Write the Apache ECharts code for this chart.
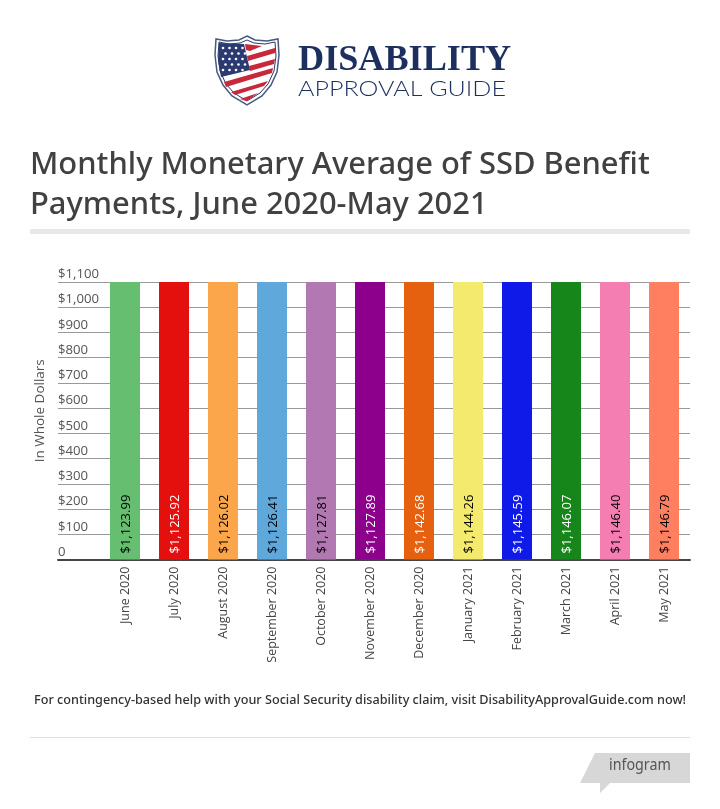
<!doctype html>
<html>
<head>
<meta charset="utf-8">
<title>Monthly Monetary Average of SSD Benefit Payments</title>
<style>
html, body { margin: 0; padding: 0; background: #fff; }
#main { width: 720px; height: 809px; }
</style>
</head>
<body>
<div id="main"></div>
<script src="https://cdn.jsdelivr.net/npm/echarts@6/dist/echarts.min.js"></script>
<script>
var months = ['June 2020', 'July 2020', 'August 2020', 'September 2020', 'October 2020', 'November 2020',
    'December 2020', 'January 2021', 'February 2021', 'March 2021', 'April 2021', 'May 2021'];
var payments = [1123.99, 1125.92, 1126.02, 1126.41, 1127.81, 1127.89, 1142.68, 1144.26, 1145.59, 1146.07, 1146.40, 1146.79];
var barColors = ['#66bf70', '#e3100e', '#fba64a', '#5fa8dc', '#b278b2', '#8c008c',
    '#e56110', '#f3ea6e', '#0f1ae8', '#16851a', '#f47eb2', '#ff7f60'];
var labelColors = ['#000', '#fff', '#000', '#000', '#000', '#fff', '#fff', '#000', '#fff', '#fff', '#000', '#000'];

var titleText = 'Monthly Monetary Average of SSD Benefit\nPayments, June 2020-May 2021';
var footerText = 'For contingency-based help with your Social Security disability claim, visit DisabilityApprovalGuide.com now!';

function money(v) {
    return '$' + v.toLocaleString('en-US', { minimumFractionDigits: 2, maximumFractionDigits: 2 });
}

var barData = payments.map(function (v, i) {
    return {
        value: v,
        itemStyle: { color: barColors[i] },
        label: { color: labelColors[i] }
    };
});

// logo, drawn by hand
var navy = '#1c2f5f';
var stripe = '#c8283c';
var logo = [
    { type: 'polygon', shape: { points: [[247, 36], [255, 40], [267, 41], [278, 39], [279, 55], [277, 72], [271, 85], [262, 96], [247, 105], [232, 96], [223, 85], [217, 72], [215, 55], [216, 39], [227, 41], [239, 40]] },
        style: { fill: '#fff', stroke: '#4a5a80', lineWidth: 1.5 } },
    { type: 'polygon', shape: { points: [[247, 40], [254, 43], [265, 44], [275, 42], [276, 56], [274, 71], [268, 84], [260, 93], [247, 101], [234, 93], [226, 84], [220, 71], [218, 56], [219, 42], [229, 44], [240, 43]] },
        style: { fill: '#fff', stroke: '#2a3a68', lineWidth: 1 } },
    { type: 'polygon', shape: { points: [[245, 44], [262, 46], [250, 51], [246, 50]] }, style: { fill: stripe } },
    { type: 'polygon', shape: { points: [[247, 56], [275, 48], [275, 53], [248, 61]] }, style: { fill: stripe } },
    { type: 'polygon', shape: { points: [[249, 66], [275, 59], [274, 64], [250, 71]] }, style: { fill: stripe } },
    { type: 'polygon', shape: { points: [[224, 82], [273, 68], [272, 73], [226, 87]] }, style: { fill: stripe } },
    { type: 'polygon', shape: { points: [[231, 92], [268, 81], [264, 86], [235, 95]] }, style: { fill: stripe } },
    { type: 'polygon', shape: { points: [[240, 99], [258, 93], [250, 99], [246, 101]] }, style: { fill: stripe } },
    { type: 'polygon', shape: { points: [[219, 43], [244, 44], [250, 70], [221, 77], [218, 60]] }, style: { fill: '#2c3a72' } },
    { type: 'text', x: 298, y: 43, style: { text: 'DISABILITY', fill: navy, font: 'bold 36.2px "Liberation Serif"' } },
    { type: 'text', x: 298, y: 78, scaleX: 1.14, style: { text: 'APPROVAL GUIDE', fill: navy, font: '300 22px Lato' } }
];
// stars in the canton of the shield
for (var row = 0; row < 5; row++) {
    for (var col = 0; col < 4; col++) {
        logo.push({
            type: 'circle',
            shape: { cx: 223 + col * 6.5 + (row % 2) * 2.5, cy: 48 + row * 5.5, r: 1.3 },
            style: { fill: '#fff' }
        });
    }
}

var page = [
    { type: 'rect', shape: { x: 30, y: 229, width: 660, height: 5 }, style: { fill: '#e8e8e8' } },
    { type: 'rect', shape: { x: 58, y: 560, width: 632, height: 1 }, style: { fill: '#ddd' } },
    { type: 'text', left: 34, top: 694, style: { text: footerText, fill: '#333', font: '500 12.65px "Noto Sans"' } },
    { type: 'rect', shape: { x: 30, y: 737, width: 660, height: 1 }, style: { fill: '#e0e0e0' } },
    { type: 'polygon', shape: { points: [[595, 753], [690, 753], [690, 783], [610, 783], [600, 793], [600, 783], [580, 783]] },
        style: { fill: '#d7d7d7' } },
    { type: 'text', x: 609, y: 757, scaleX: 0.84, style: { text: 'infogram', fill: '#555', font: '17px "Noto Sans"' } }
];

var chart = echarts.init(document.getElementById('main'), null, { renderer: 'canvas' });

chart.setOption({
    animation: false,
    backgroundColor: '#fff',
    title: {
        text: titleText,
        left: 30,
        top: 145,
        padding: 0,
        textStyle: { color: '#414141', fontFamily: 'Noto Sans', fontWeight: 500, fontSize: 30.9, lineHeight: 40 }
    },
    // first grid carries the gridlines, second one sits over it with the bars
    grid: [
        { left: 58, top: 282, width: 632, height: 277.5 },
        { left: 100.5, top: 282, width: 588, height: 277.5 }
    ],
    xAxis: [
        {
            gridIndex: 0, type: 'value', min: 0, max: 1,
            axisLine: { show: true, lineStyle: { color: '#444', width: 2 } },
            axisTick: { show: false }, axisLabel: { show: false }, splitLine: { show: false }
        },
        {
            gridIndex: 1, type: 'category', data: months,
            axisLine: { show: false }, axisTick: { show: false },
            axisLabel: { interval: 0, rotate: 90, margin: 7, color: '#444', fontFamily: 'Open Sans', fontSize: 12.5 }
        }
    ],
    yAxis: [
        {
            gridIndex: 0, type: 'value', min: 0, max: 1100, interval: 100,
            name: 'In Whole Dollars', nameLocation: 'middle', nameGap: 0,
            nameTextStyle: { color: '#555', fontFamily: 'Open Sans', fontSize: 13.5, padding: [0, 0, 0, 20] },
            axisLine: { show: false }, axisTick: { show: false },
            axisLabel: {
                inside: true, margin: 0, align: 'left', verticalAlign: 'bottom', padding: [0, 0, 1, 0],
                color: '#555', fontFamily: 'Open Sans', fontSize: 13.2,
                formatter: function (v) { return v === 0 ? '0' : '$' + v.toLocaleString('en-US'); }
            },
            splitLine: { show: true, lineStyle: { color: '#999', width: 1 } }
        },
        { gridIndex: 1, type: 'value', min: 0, max: 1100, show: false }
    ],
    series: [{
        type: 'bar',
        xAxisIndex: 1,
        yAxisIndex: 1,
        barWidth: 30,
        data: barData,
        label: {
            show: true,
            position: 'insideBottom',
            rotate: 90,
            align: 'left',
            verticalAlign: 'middle',
            distance: 6,
            offset: [0, 1.5],
            fontFamily: 'Open Sans',
            fontSize: 13,
            formatter: function (p) { return money(p.value); }
        }
    }],
    graphic: logo.concat(page)
});

window.onresize = chart.resize;
</script>
</body>
</html>
